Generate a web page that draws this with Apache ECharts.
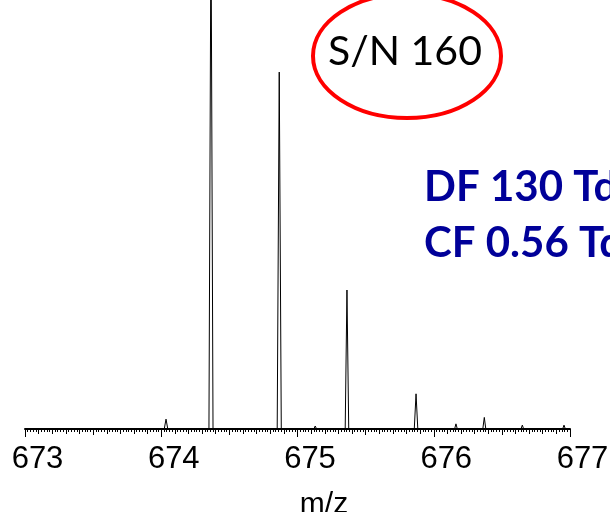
<!DOCTYPE html>
<html><head><meta charset="utf-8">
<script src="https://cdn.jsdelivr.net/npm/echarts@6/dist/echarts.min.js"></script>
<style>html,body{margin:0;padding:0;background:#fff}#c{width:610px;height:512px}</style>
</head><body><div id="c"></div>
<script>
// spectrum points [m/z, intensity] (intensity in % of full scale; largest peak is off-scale)
var spectrumMz = [673.0, 674.022, 674.035, 674.048, 674.35, 674.365, 674.38, 674.851, 674.866, 674.881,
  675.12, 675.13, 675.14, 675.35, 675.363, 675.376, 675.857, 675.87, 675.883,
  676.153, 676.163, 676.173, 676.36, 676.371, 676.382, 676.64, 676.65, 676.66, 676.946, 676.956, 676.966, 677.0];
var spectrumInt = [0, 0, 2.3, 0, 0, 120, 0, 0, 83.2, 0,
  0, 0.7, 0, 0, 32.4, 0, 0, 8.2, 0,
  0, 1.2, 0, 0, 2.7, 0, 0, 0.9, 0, 0, 0.9, 0, 0];
var xTickLabels = ['673', '674', '675', '676', '677'];
var xMin = 673, xMax = 677;
var snText = 'S/N 160';
var annot1 = 'DF 130 Td';
var annot2 = 'CF 0.56 Td';

var data = spectrumMz.map(function (m, i) { return [m, spectrumInt[i]]; });
var chart = echarts.init(document.getElementById('c'), null, {renderer: 'canvas'});
var commonAxis = {type: 'value', min: xMin, max: xMax, position: 'bottom', gridIndex: 0,
  splitLine: {show: false}, axisLabel: {show: false}, axisLine: {show: false}};
chart.setOption({
  animation: false,
  grid: {left: 25, right: 40, top: 0, bottom: 83, containLabel: false, outerBoundsMode: 'none'},
  xAxis: [
    Object.assign({}, commonAxis, {interval: 1,
      axisLine: {show: true, onZero: false, lineStyle: {color: '#000', width: 2}},
      axisTick: {show: true, length: 8, lineStyle: {color: '#000', width: 1}},
      axisLabel: {show: true, color: '#000', fontSize: 31, fontFamily: 'Liberation Sans, Arial, sans-serif',
        margin: 15, padding: [0, 0, 0, 25], formatter: function (v) { return xTickLabels[Math.round(v - xMin)]; }},
      name: 'm/z', nameLocation: 'middle', nameGap: 61,
      nameTextStyle: {color: '#000', fontSize: 30, fontFamily: 'Liberation Sans, Arial, sans-serif', padding: [0, 0, 0, 53]}
    }),
    Object.assign({}, commonAxis, {interval: 0.5,
      axisTick: {show: true, length: 6, lineStyle: {color: '#000', width: 1}}}),
    Object.assign({}, commonAxis, {interval: 0.1,
      axisTick: {show: true, length: 5, lineStyle: {color: '#000', width: 1}},
      minorTick: {show: true, splitNumber: 5, length: 3, lineStyle: {color: '#000', width: 1}}})
  ],
  yAxis: {type: 'value', min: 0, max: 100, show: false},
  series: [{type: 'line', xAxisIndex: 0, data: data, symbol: 'none', clip: true,
    lineStyle: {color: '#000', width: 1}}],
  graphic: [
    {type: 'ellipse', shape: {cx: 407, cy: 56, rx: 94, ry: 62}, style: {fill: 'none', stroke: '#ff0000', lineWidth: 4}, z: 100},
    {type: 'text', x: 328, y: 31, style: {text: snText, fill: '#000', font: '41px Lato, "Open Sans", sans-serif'}, z: 101},
    {type: 'text', x: 424, y: 166, style: {text: annot1, fill: '#000099', font: 'bold 42px Lato, "Open Sans", sans-serif'}, z: 101},
    {type: 'text', x: 424, y: 222, style: {text: annot2, fill: '#000099', font: 'bold 42px Lato, "Open Sans", sans-serif'}, z: 101}
  ]
});
</script></body></html>
